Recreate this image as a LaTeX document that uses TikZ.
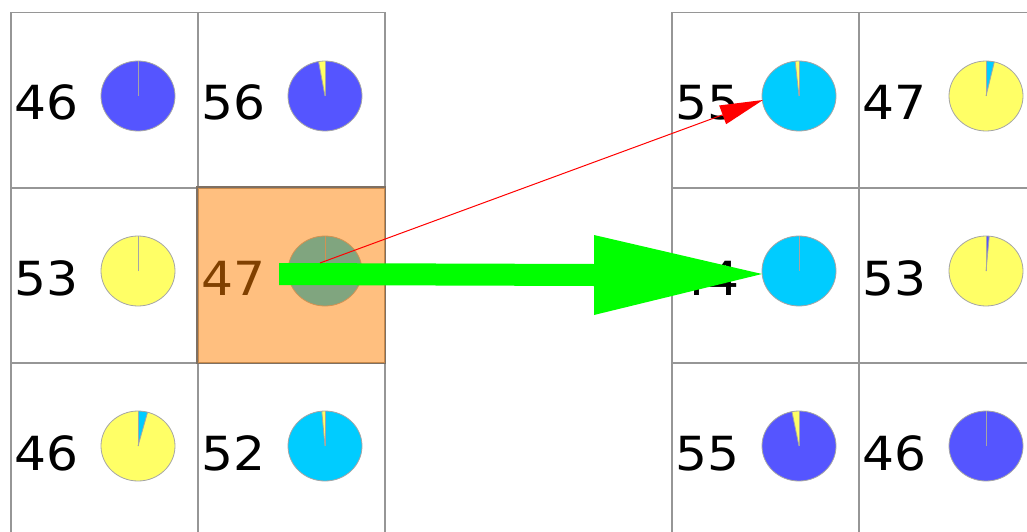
\documentclass[tikz,border=0pt]{standalone}
\usepackage{fontspec}
\setmainfont{DejaVu Sans}
\usetikzlibrary{calc}
\definecolor{pblue}{RGB}{85,85,255}
\definecolor{pcyan}{RGB}{0,204,255}
\definecolor{pyellow}{RGB}{255,255,102}
\definecolor{gridgray}{RGB}{150,150,150}
\definecolor{piegray}{RGB}{165,165,165}
\definecolor{hl}{RGB}{255,128,0}
\definecolor{hlborder}{RGB}{125,112,100}
\definecolor{arrgreen}{RGB}{0,255,0}
\tikzset{
  cell/.style={draw=gridgray, line width=1.5pt, minimum width=187pt, minimum height=175pt, inner sep=0pt, anchor=north west},
  numtext/.style={anchor=base west, inner sep=0pt, xscale=1.07, font=\fontsize{47}{50}\selectfont},
  pieline/.style={piegray, line width=0.8pt},
}
\newcommand\piecell[5]{%
  \coordinate (#1p) at ($(#1.north west)+(128,84)$);
  \node[numtext] (#1t) at ($(#1.north west)+(4,108)$) {#2};
  \fill[#3] (#1p) ellipse[x radius=37, y radius=35];
  \fill[#4] (#1p) -- ++(-90:37 and 35) arc[start angle=-90, end angle=#5, x radius=37, y radius=35] -- cycle;
  \draw[pieline] (#1p) ellipse[x radius=37, y radius=35];
  \draw[pieline] (#1p) -- ++(-90:37 and 35);
  \draw[pieline] (#1p) -- ++(#5:37 and 35);
}
\begin{document}
\begin{tikzpicture}[x=1pt, y=-1pt]
\useasboundingbox (0,0) rectangle (1027,532);
\fill[white] (0,0) rectangle (1027,532);
\clip (0,0) rectangle (1027,532);
% left grid
\node[cell] (L00) at (10,12) {};
\node[cell] (L10) at (197,12) {};
\node[cell] (L01) at (10,187) {};
\node[cell] (L11) at (197,187) {};
\node[cell] (L02) at (10,362) {};
\node[cell] (L12) at (197,362) {};
% right grid
\node[cell] (R00) at (671,12) {};
\node[cell] (R10) at (858,12) {};
\node[cell] (R01) at (671,187) {};
\node[cell] (R11) at (858,187) {};
\node[cell] (R02) at (671,362) {};
\node[cell] (R12) at (858,362) {};
% contents
\piecell{L00}{46}{pblue}{pblue}{-90}
\piecell{L10}{56}{pblue}{pyellow}{-100}
\piecell{L01}{53}{pyellow}{pyellow}{-90}
\piecell{L11}{47}{pcyan}{pcyan}{-90}
\piecell{L02}{46}{pyellow}{pcyan}{-75}
\piecell{L12}{52}{pcyan}{pyellow}{-95}
\piecell{R00}{55}{pcyan}{pyellow}{-96}
\piecell{R10}{47}{pyellow}{pcyan}{-77}
\piecell{R01}{44}{pcyan}{pcyan}{-90}
\piecell{R11}{53}{pyellow}{pblue}{-85}
\piecell{R02}{55}{pblue}{pyellow}{-101}
\piecell{R12}{46}{pblue}{pblue}{-90}
% highlight
\fill[hl, opacity=0.5] (L11.north west) rectangle (L11.south east);
\draw[hlborder, line width=1.5pt] (L11.north west) rectangle (L11.south east);
% green arrow
\coordinate (gs) at ($(L11p)+(-46,3)$);
\coordinate (gtip) at ($(R01p)+(-37,3)$);
\coordinate (gb) at (594,275);
\fill[arrgreen] ($(gs)+(0,-11)$) -- ($(gb)+(0,-11)$) -- ($(gb)+(0,-40)$) -- (gtip)
  -- ($(gb)+(0,40)$) -- ($(gb)+(0,11)$) -- ($(gs)+(0,11)$) -- cycle;
% red arrow
\coordinate (rs) at ($(L11p)+(-5,-8)$);
\coordinate (rtip) at ($(R00p)+(-36,4)$);
\coordinate (rb) at ($(rtip)!43pt!(rs)$);
\draw[red, line width=1pt] (rs) -- (rb);
\fill[red] (rtip) -- ($(rb)!10pt!90:(rtip)$) -- ($(rb)!10pt!-90:(rtip)$) -- cycle;
\end{tikzpicture}
\end{document}
